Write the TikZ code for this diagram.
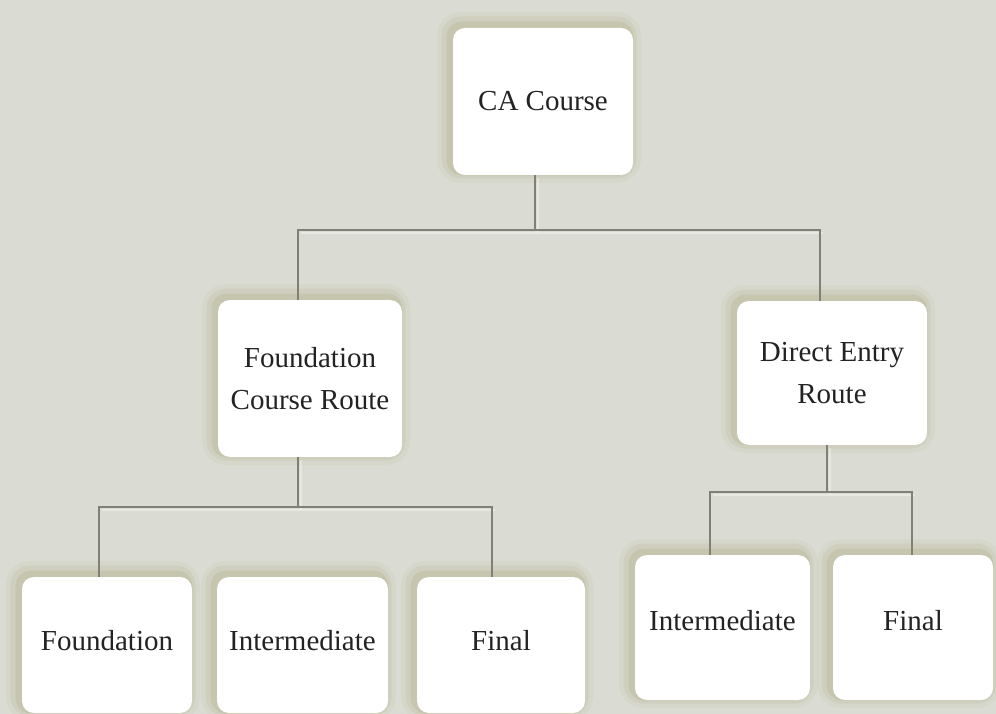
\documentclass[tikz,border=0pt]{standalone}
\usepackage{fontspec}
\setmainfont{Liberation Serif}
\definecolor{bgc}{RGB}{218,220,211}
\definecolor{linec}{RGB}{128,128,118}
\definecolor{shadowc}{RGB}{170,162,118}
\definecolor{textc}{RGB}{35,35,35}
\tikzset{
  card/.style={rectangle, rounded corners=12pt, fill=white, align=center,
    text=textc, font=\fontsize{29}{42}\selectfont, inner sep=0pt,
    preaction={draw=shadowc, line width=24pt, draw opacity=0.08, transform canvas={xshift=-4pt,yshift=4pt}},
    preaction={draw=shadowc, line width=15pt, draw opacity=0.14, transform canvas={xshift=-4pt,yshift=4pt}},
    preaction={draw=shadowc, line width=7pt, draw opacity=0.22, transform canvas={xshift=-3pt,yshift=3pt}}},
  conn/.style={draw=linec, line width=1.6pt},
  hilite/.style={draw=white, line width=2.5pt, draw opacity=0.35}
}
\begin{document}
\begin{tikzpicture}[x=1pt,y=-1pt]
\fill[bgc] (0,0) rectangle (996,714);
\useasboundingbox (0,0) rectangle (996,714);
\clip (0,0) rectangle (996,714);

% branch coordinates
\coordinate (tM) at (535,230);
\coordinate (tL) at (298,230);
\coordinate (tR) at (820,230);
\coordinate (lM) at (298,507);
\coordinate (lL) at (99,507);
\coordinate (lR) at (492,507);
\coordinate (rM) at (827,492);
\coordinate (rL) at (710,492);
\coordinate (rR) at (912,492);

% nodes
\node[card, minimum width=180pt, minimum height=147pt] (ca) at (543,101.5) {CA Course};
\node[card, minimum width=184pt, minimum height=157pt] (fcr) at (310,378.5) {Foundation\\Course Route};
\node[card, minimum width=190pt, minimum height=144pt] (der) at (832,373) {Direct Entry\\Route};
\node[card, text depth=10pt, minimum width=170pt, minimum height=136pt] (fnd) at (107,645) {Foundation};
\node[card, text depth=10pt, minimum width=171pt, minimum height=136pt] (int1) at (302.5,645) {Intermediate};
\node[card, text depth=10pt, minimum width=168pt, minimum height=136pt] (fin1) at (501,645) {Final};
\node[card, text depth=14pt, minimum width=175pt, minimum height=145pt] (int2) at (722.5,627.5) {Intermediate};
\node[card, text depth=14pt, minimum width=160pt, minimum height=145pt] (fin2) at (913,627.5) {Final};

% connectors
\begin{scope}[transform canvas={xshift=3pt,yshift=-3pt}]
\draw[hilite] (ca.south -| tM) -- (tM);
\draw[hilite] (tL) -- (tR);
\draw[hilite] (fcr.south -| lM) -- (lM);
\draw[hilite] (lL) -- (lR);
\draw[hilite] (der.south -| rM) -- (rM);
\draw[hilite] (rL) -- (rR);
\end{scope}
\draw[conn] (ca.south -| tM) -- (tM);
\draw[conn] (fcr.north -| tL) -- (tL) -- (tR) -- (der.north -| tR);
\draw[conn] (fcr.south -| lM) -- (lM);
\draw[conn] (fnd.north -| lL) -- (lL) -- (lR) -- (fin1.north -| lR);
\draw[conn] (der.south -| rM) -- (rM);
\draw[conn] (int2.north -| rL) -- (rL) -- (rR) -- (fin2.north -| rR);
\end{tikzpicture}
\end{document}
